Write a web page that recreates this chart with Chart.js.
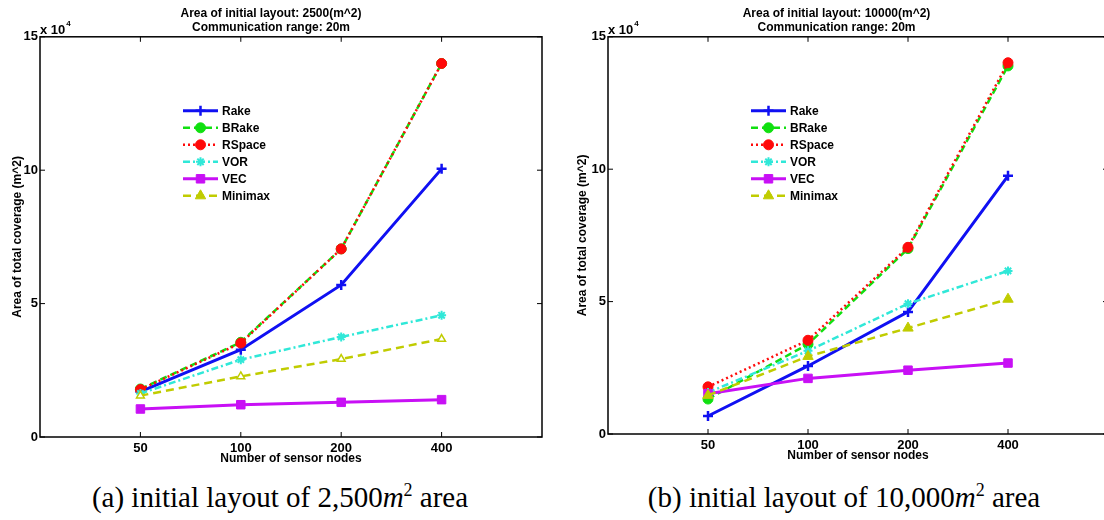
<!DOCTYPE html>
<html>
<head>
<meta charset="utf-8">
<script src="https://cdn.jsdelivr.net/npm/chart.js@4.4.1/dist/chart.umd.min.js"></script>
<style>
  html, body { margin: 0; padding: 0; background: #fff; overflow: hidden; }
  body { width: 1104px; height: 520px; position: relative; }
  canvas { position: absolute; top: 0; }
  .caption {
    position: absolute; top: 480px; white-space: nowrap;
    font-family: "Liberation Serif", "Times New Roman", serif; font-size: 29px;
    line-height: 34px; transform: translateX(-50%); color: #000;
  }
  .caption sup { font-size: 62%; vertical-align: baseline; position: relative; top: -0.62em; }
</style>
</head>
<body>
<canvas id="chartA" width="562" height="470" style="left:0"></canvas>
<canvas id="chartB" width="592" height="467" style="left:565px"></canvas>
<div class="caption" style="left:280px">(a) initial layout of 2,500<i>m</i><sup>2</sup> area</div>
<div class="caption" style="left:844px">(b) initial layout of 10,000<i>m</i><sup>2</sup> area</div>

<script>
// number of sensor nodes on the x axis
const nodes = ["50", "100", "200", "400"];
const yTicks = [0, 50000, 100000, 150000];

// total coverage (m^2), initial layout 2500 m^2
const rakeA    = [17000, 32700, 57000, 100500];
const brakeA   = [18000, 35500, 70500, 140000];
const rspaceA  = [17800, 35200, 70500, 140000];
const vorA     = [16300, 29000, 37500, 45600];
const vecA     = [10500, 12100, 13000, 14000];
const minimaxA = [15500, 22700, 29200, 36700];

// total coverage (m^2), initial layout 10000 m^2
const rakeB    = [6800, 25700, 46100, 97500];
const brakeB   = [13200, 33900, 70000, 139000];
const rspaceB  = [17800, 35400, 70500, 140200];
const vorB     = [15700, 31400, 49200, 61600];
const vecB     = [15200, 21000, 24100, 26800];
const minimaxB = [14600, 29300, 40000, 50900];

const FONT = "'Liberation Sans', Arial, Helvetica, sans-serif";
Chart.defaults.font.family = FONT;
Chart.defaults.color = "#000";

// line styles per method
const styles = {
  Rake:    { color: "#1010f2", dash: [],            width: 3,   point: "cross",    radius: 5,   pw: 2.5 },
  BRake:   { color: "#10e010", dash: [7, 4],        width: 2.5, point: "circle",   radius: 5,   pw: 1 },
  RSpace:  { color: "#ff0a0a", dash: [2, 3],        width: 2.5, point: "circle",   radius: 5,   pw: 1 },
  VOR:     { color: "#30e8d8", dash: [7, 3, 2, 3],  width: 2.5, point: "star",     radius: 4.5, pw: 2 },
  VEC:     { color: "#c810f5", dash: [],            width: 3,   point: "rect",     radius: 6,   pw: 1 },
  Minimax: { color: "#c0cc00", dash: [8, 5],        width: 2.5, point: "triangle", radius: 6,   pw: 1 }
};

function makeDatasets(series, hollowTriangle) {
  const names = Object.keys(series);
  return names.map((name, i) => {
    const s = styles[name];
    const hollow = hollowTriangle && name === "Minimax";
    return {
      label: name,
      data: series[name].map((v, k) => ({ x: k + 1, y: v })),
      borderColor: s.color,
      backgroundColor: s.color,
      borderWidth: s.width,
      borderDash: s.dash,
      pointStyle: s.point,
      pointRadius: hollow ? 4.5 : s.radius,
      pointBorderWidth: hollow ? 1.5 : s.pw,
      pointBackgroundColor: hollow ? "#fff" : s.color,
      pointBorderColor: s.color,
      fill: false,
      tension: 0,
      order: names.length - i
    };
  });
}

// box, inward ticks, legend and exponent label
const matlabAxes = {
  id: "matlabAxes",
  beforeDatasetsDraw(chart) {
    const { ctx, chartArea: a, scales } = chart;
    ctx.save();
    ctx.strokeStyle = "#000";
    ctx.lineWidth = 1.5;
    ctx.setLineDash([]);
    ctx.strokeRect(a.left, a.top, a.right - a.left, a.bottom - a.top);
    ctx.lineWidth = 1;
    const t = 5;
    scales.x.ticks.forEach(tk => {
      const px = scales.x.getPixelForValue(tk.value);
      ctx.beginPath();
      ctx.moveTo(px, a.bottom); ctx.lineTo(px, a.bottom - t);
      ctx.moveTo(px, a.top); ctx.lineTo(px, a.top + t);
      ctx.stroke();
    });
    scales.y.ticks.forEach(tk => {
      const py = scales.y.getPixelForValue(tk.value);
      ctx.beginPath();
      ctx.moveTo(a.left, py); ctx.lineTo(a.left + t, py);
      ctx.moveTo(a.right, py); ctx.lineTo(a.right - t, py);
      ctx.stroke();
    });
    ctx.restore();
  },
  afterDatasetsDraw(chart) {
    const { ctx, chartArea: a } = chart;
    ctx.save();
    chart.data.datasets.forEach((ds, i) => {
      const s = styles[ds.label];
      const y = a.top + 74 + i * 17;
      const x0 = a.left + 143, x1 = x0 + 35;
      ctx.strokeStyle = s.color;
      ctx.lineWidth = s.width;
      ctx.setLineDash(s.dash);
      ctx.beginPath();
      ctx.moveTo(x0, y); ctx.lineTo(x1, y);
      ctx.stroke();
      ctx.setLineDash([]);
      ctx.fillStyle = s.color;
      ctx.lineWidth = s.pw;
      Chart.helpers.drawPoint(ctx, { pointStyle: s.point, radius: s.radius, rotation: 0, borderWidth: s.pw }, (x0 + x1) / 2, y);
      ctx.fillStyle = "#000";
      ctx.font = "bold 12px " + FONT;
      ctx.textBaseline = "middle";
      ctx.textAlign = "left";
      ctx.fillText(ds.label, x1 + 4, y + 0.5);
    });
    // exponent of the y axis
    ctx.fillStyle = "#000";
    ctx.textBaseline = "alphabetic";
    ctx.font = "bold 13px " + FONT;
    ctx.fillText("x 10", a.left, a.top - 3);
    const w = ctx.measureText("x 10").width;
    ctx.font = "bold 8px " + FONT;
    ctx.fillText("4", a.left + w + 1, a.top - 11);
    ctx.restore();
  }
};

function makeChart(id, titleLine1, series, hollowTriangle, yWidth, padRight) {
  return new Chart(document.getElementById(id), {
    type: "line",
    data: { datasets: makeDatasets(series, hollowTriangle) },
    options: {
      responsive: false,
      animation: false,
      devicePixelRatio: 1,
      layout: { padding: { left: 0, right: padRight, top: 0, bottom: 0 } },
      plugins: {
        legend: { display: false },
        tooltip: { enabled: false },
        title: {
          display: true,
          text: [titleLine1, "Communication range: 20m"],
          font: { size: 12, weight: "bold" },
          color: "#000",
          padding: { top: 6, bottom: 2 }
        }
      },
      scales: {
        x: {
          type: "linear",
          min: 0,
          max: 5,
          afterBuildTicks: axis => { axis.ticks = nodes.map((n, i) => ({ value: i + 1 })); },
          afterFit: scale => { scale.height = 33; },
          grid: { display: false, drawTicks: false },
          border: { display: false },
          ticks: {
            callback: v => nodes[v - 1],
            font: { size: 13, weight: "bold" },
            padding: 4,
            maxRotation: 0
          },
          title: {
            display: true,
            text: "Number of sensor nodes",
            font: { size: 12, weight: "bold" },
            padding: { top: 0, bottom: 4 }
          }
        },
        y: {
          min: 0,
          max: 150000,
          afterBuildTicks: axis => { axis.ticks = yTicks.map(v => ({ value: v })); },
          afterFit: scale => { scale.width = yWidth; },
          grid: { display: false, drawTicks: false },
          border: { display: false },
          ticks: {
            callback: v => String(v / 10000),
            font: { size: 13, weight: "bold" },
            padding: 2
          },
          title: {
            display: true,
            text: "Area of total coverage (m^2)",
            font: { size: 12, weight: "bold" },
            padding: { top: 10, bottom: 0 }
          }
        }
      }
    },
    plugins: [matlabAxes]
  });
}

makeChart("chartA", "Area of initial layout: 2500(m^2)",
  { Rake: rakeA, BRake: brakeA, RSpace: rspaceA, VOR: vorA, VEC: vecA, Minimax: minimaxA },
  true, 40, 20);

makeChart("chartB", "Area of initial layout: 10000(m^2)",
  { Rake: rakeB, BRake: brakeB, RSpace: rspaceB, VOR: vorB, VEC: vecB, Minimax: minimaxB },
  false, 43, 49);
</script>
</body>
</html>
